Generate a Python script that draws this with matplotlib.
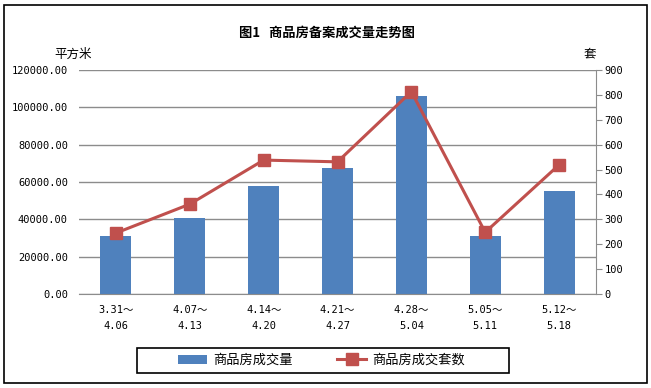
import matplotlib.pyplot as plt
from matplotlib.patches import Rectangle

plt.rcParams['font.family'] = ['Noto Sans CJK SC', 'DejaVu Sans']

weeks = ['3.31～\n4.06', '4.07～\n4.13', '4.14～\n4.20', '4.21～\n4.27',
         '4.28～\n5.04', '5.05～\n5.11', '5.12～\n5.18']
area = [31000, 40700, 57900, 67700, 106200, 31100, 55200]   # 商品房成交量 (平方米)
units = [245, 361, 538, 531, 813, 248, 519]                  # 商品房成交套数 (套)
left_ticks = [0, 20000, 40000, 60000, 80000, 100000, 120000]
right_ticks = [0, 100, 200, 300, 400, 500, 600, 700, 800, 900]

fig = plt.figure(figsize=(6.51, 3.88), dpi=100)
# outer border
fig.patches.append(Rectangle((0.006, 0.012), 0.988, 0.976, transform=fig.transFigure,
                             fill=False, edgecolor='black', linewidth=1.2))
# legend box
fig.patches.append(Rectangle((0.2104, 0.0387), 0.5714, 0.0644, transform=fig.transFigure,
                             fill=False, edgecolor='black', linewidth=1.2))

ax = fig.add_axes([0.1214, 0.2423, 0.7941, 0.5773])
x = list(range(len(weeks)))
bars = ax.bar(x, area, width=0.42, color='#4F81BD', zorder=2, label='商品房成交量')
ax.set_ylim(0, 120000)
ax.set_xlim(-0.5, len(weeks) - 0.5)
ax.set_yticks(left_ticks)
ax.set_yticklabels(['%.2f' % v for v in left_ticks], family='DejaVu Sans Mono', fontsize=7.5)
ax.yaxis.grid(True, color='#8c8c8c', linewidth=1, zorder=0)
ax.set_axisbelow(True)
ax.tick_params(axis='y', length=0, pad=8)
ax.set_xticks(x)
ax.set_xticklabels(weeks, family=['DejaVu Sans Mono', 'Noto Sans CJK SC'], fontsize=7.5,
                   linespacing=1.75)
ax.tick_params(axis='x', length=0, pad=8)
for s in ['top', 'left', 'right']:
    ax.spines[s].set_visible(False)
ax.spines['bottom'].set_color('#8c8c8c')

ax2 = ax.twinx()
line, = ax2.plot(x, units, color='#C0504D', linewidth=2.2, marker='s', markersize=8,
                 markerfacecolor='#C0504D', markeredgecolor='#C0504D', zorder=3,
                 label='商品房成交套数')
ax2.set_ylim(0, 900)
ax2.set_yticks(right_ticks)
ax2.set_yticklabels([str(v) for v in right_ticks], family='DejaVu Sans Mono', fontsize=7.5)
ax2.tick_params(axis='y', direction='out', length=4, color='#8c8c8c', pad=2)
for s in ['top', 'left', 'bottom']:
    ax2.spines[s].set_visible(False)
ax2.spines['right'].set_color('#8c8c8c')

fig.text(0.502, 0.915, '图1   商品房备案成交量走势图', ha='center', va='center',
         fontsize=9.5, fontweight='bold')
fig.text(0.112, 0.86, '平方米', ha='center', va='center', fontsize=9)
fig.text(0.906, 0.86, '套', ha='center', va='center', fontsize=9)

leg = fig.legend(handles=[bars, line], loc='center', bbox_to_anchor=(0.494, 0.071),
                 ncol=2, frameon=False, fontsize=9.5,
                 handlelength=2.2, handletextpad=0.45, columnspacing=3.4)

fig.savefig('out.png', dpi=100)
